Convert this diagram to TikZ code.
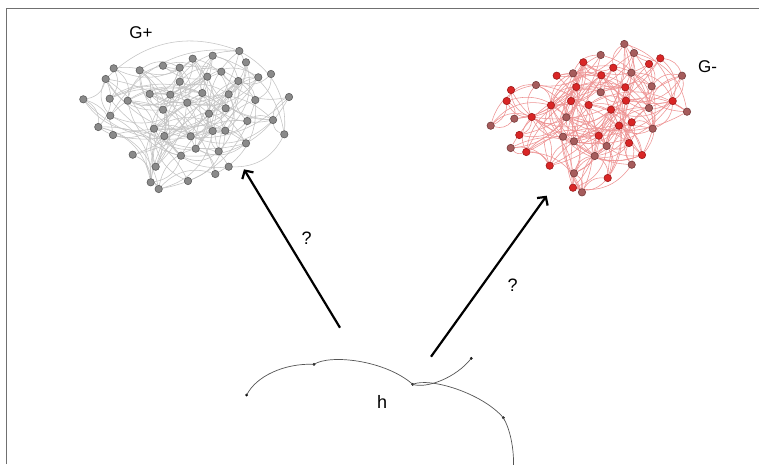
\documentclass[tikz,border=0pt]{standalone}
\usepackage{fontspec}
\setmainfont{Liberation Sans}
\usetikzlibrary{arrows.meta}
\pgfdeclarelayer{back}
\pgfdeclarelayer{bg}
\pgfsetlayers{back,bg,main}
\definecolor{gfill}{HTML}{8A8A8A}
\definecolor{gline}{HTML}{5E5E5E}
\definecolor{gedgec}{HTML}{C4C4C4}
\definecolor{rfill}{HTML}{D92626}
\definecolor{rline}{HTML}{9E1A1A}
\definecolor{bfill}{HTML}{A65C5C}
\definecolor{bline}{HTML}{773B3B}
\definecolor{redgec}{HTML}{EE9292}
\definecolor{framec}{HTML}{707070}
\definecolor{hcurve}{HTML}{555555}
\def\gplist{239.3/51, 212.7/55.7, 192.7/58.7, 246/62.3, 113.7/68.3, 139.7/70.3, 163/65.7, 179.7/67.7, 221.3/71.7, 207.3/76.7, 258.3/77.3, 271/74, 105.7/79, 179.7/81.7, 238.3/81, 83.3/99.3, 109.7/98.7, 127.7/100.7, 149.7/94, 170.3/94.7, 187.3/102.7, 202.3/93, 228.7/94.3, 255.3/100, 289/97, 163/109.7, 209/113.7, 225.7/108.3, 110.3/115.7, 98.3/127, 154/128.7, 247.3/121, 273/120, 113/135, 164.3/136, 190.7/136.3, 212.7/131, 225.3/130.7, 284.3/134.3, 246/143.3, 195.7/148.7, 218.7/151.3, 132.7/154.7, 181/155.7, 155.7/166.7, 228.7/166.7, 215.3/174, 150.7/182.3, 188/181, 158.7/189}
\def\gmlist{624.3/44/b, 634/53/b, 600.7/55/b, 660.3/58.3/r, 583.3/62.3/r, 613.3/67.7/r, 649/64/r, 556.7/75.7/r, 573/73.3/b, 601.3/75.3/r, 631.3/72.7/b, 682/75.7/b, 536/85/b, 576.3/87/r, 625.3/87.3/r, 651.7/86.3/b, 511/90/r, 600.7/92.3/b, 506.7/101/r, 551/105.3/r, 571/101/r, 588.7/105/r, 626/100.7/r, 672.7/101/r, 611/109.7/r, 649/108/b, 687/111.7/b, 514.3/118.7/b, 531.7/117/r, 566.3/117.3/b, 619/125.7/r, 631.7/122.3/r, 490.7/125.7/b, 652.7/128.7/b, 519.3/135/r, 563/136.7/b, 574/141.3/b, 598.7/135.7/r, 606.7/146/b, 629/143/r, 510.7/148/b, 526.3/152/r, 642/155/r, 594.7/156/b, 549.7/165.7/r, 631.7/164.7/b, 574/173.3/b, 607.7/178/r, 573/187.7/r, 582/192.3/b}
\begin{document}
\begin{tikzpicture}[x=1pt,y=-1pt,
  gnode/.style={circle,inner sep=0pt,minimum size=7.4pt,fill=gfill,draw=gline,line width=0.6pt},
  mr/.style={circle,inner sep=0pt,minimum size=7.4pt,fill=rfill,draw=rline,line width=0.6pt},
  mb/.style={circle,inner sep=0pt,minimum size=7.4pt,fill=bfill,draw=bline,line width=0.6pt},
  gedge/.style={draw=gedgec,line width=0.55pt},
  redge/.style={draw=redgec,line width=0.55pt},
  bigarrow/.style={line width=2.2pt,-{Straight Barb[length=6pt,width=13pt]}},
  hline/.style={draw=hcurve,line width=0.7pt},
  hdot/.style={circle,fill=black,inner sep=0pt,minimum size=3pt},
  lab/.style={inner sep=0pt,font=\fontsize{17}{20}\selectfont},
  qlab/.style={inner sep=0pt,font=\fontsize{18}{21}\selectfont}]
\useasboundingbox (0,0) rectangle (759,464);
\begin{pgfonlayer}{back}
\fill[white] (0,0) rectangle (759,464);
\end{pgfonlayer}
% frame
\draw[framec,line width=1.3pt] (6.3,464) -- (6.3,8.3) -- (759,8.3);
% G+ nodes
\foreach \x/\y [count=\i] in \gplist {
  \node[gnode] (g\i) at (\x,\y) {};
  \expandafter\xdef\csname gx\i\endcsname{\x}%
  \expandafter\xdef\csname gy\i\endcsname{\y}%
}
% G- nodes
\foreach \x/\y/\c [count=\i] in \gmlist {
  \node[m\c] (m\i) at (\x,\y) {};
  \expandafter\xdef\csname mx\i\endcsname{\x}%
  \expandafter\xdef\csname my\i\endcsname{\y}%
}
\pgfmathsetseed{4242}
\begin{pgfonlayer}{bg}
\foreach \i in {1,...,49} {
  \pgfmathtruncatemacro\s{\i+1}
  \foreach \k in {\s,...,50} {
    \edef\xa{\csname gx\i\endcsname}\edef\xb{\csname gx\k\endcsname}%
    \edef\ya{\csname gy\i\endcsname}\edef\yb{\csname gy\k\endcsname}%
    \pgfmathsetmacro\dd{veclen(\xa-\xb,\ya-\yb)}%
    \pgfmathsetmacro\pp{(\dd<40)*0.28+(\dd>=40)*(\dd<85)*0.14+(\dd>=85)*(\dd<150)*0.06}%
    \pgfmathsetmacro\rr{rnd}%
    \pgfmathsetmacro\bb{rnd<0.6 ? 32 : -32}%
    \ifdim\rr pt<\pp pt \draw[gedge] (g\i) to[bend left=\bb] (g\k);\fi
  }
}
\foreach \i in {1,...,49} {
  \pgfmathtruncatemacro\s{\i+1}
  \foreach \k in {\s,...,50} {
    \edef\xa{\csname mx\i\endcsname}\edef\xb{\csname mx\k\endcsname}%
    \edef\ya{\csname my\i\endcsname}\edef\yb{\csname my\k\endcsname}%
    \pgfmathsetmacro\dd{veclen(\xa-\xb,\ya-\yb)}%
    \pgfmathsetmacro\pp{(\dd<40)*0.34+(\dd>=40)*(\dd<85)*0.17+(\dd>=85)*(\dd<150)*0.07}%
    \pgfmathsetmacro\rr{rnd}%
    \pgfmathsetmacro\bb{rnd<0.6 ? 32 : -32}%
    \ifdim\rr pt<\pp pt \draw[redge] (m\i) to[bend left=\bb] (m\k);\fi
  }
}
\end{pgfonlayer}
% labels
\node[lab] (gplus) at (141,33) {G+};
\node[lab,anchor=west] (gminus) at (698,66.5) {G-};
% arrows
\coordinate (a1s) at (340,327.7);
\coordinate (a1e) at (244,169.3);
\coordinate (a2s) at (431,356.7);
\coordinate (a2e) at (546.7,195.7);
\draw[bigarrow] (a1s) -- (a1e);
\draw[bigarrow] (a2s) -- (a2e);
\node[qlab] (q1) at (306.7,238.5) {?};
\node[qlab] (q2) at (512.7,285) {?};
% h curve
\node[hdot] (h1) at (246.7,395) {};
\node[hdot] (h2) at (314,364.3) {};
\node[hdot] (h3) at (412.7,384.3) {};
\node[hdot] (h4) at (471.3,358.3) {};
\node[hdot] (h5) at (503.3,417.7) {};
\coordinate (hend) at (513.5,466);
\draw[hline] (h1.center) .. controls (256,376) and (285,363) .. (h2.center);
\draw[hline] (h2.center) .. controls (330,354) and (385,360) .. (h3.center);
\draw[hline] (h3.center) .. controls (426,389) and (456,378) .. (h4.center);
\draw[hline] (h3.center) .. controls (430,377) and (482,393) .. (h5.center);
\draw[hline] (h5.center) .. controls (510,429) and (514,448) .. (hend);
\node[qlab] (hlab) at (382,402) {h};
\end{tikzpicture}
\end{document}
